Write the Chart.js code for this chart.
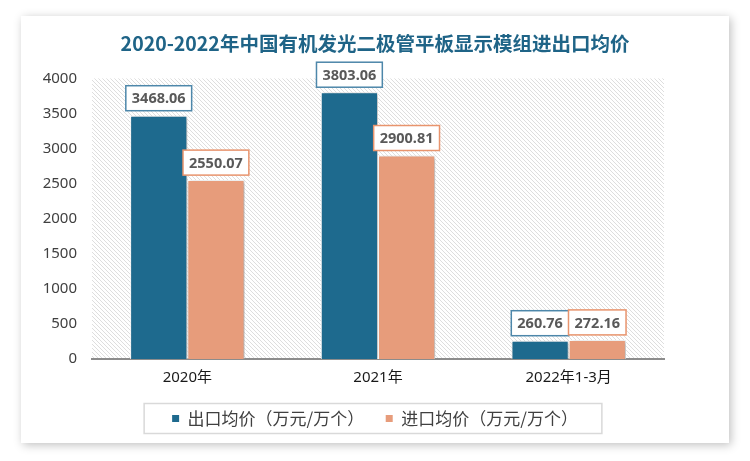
<!DOCTYPE html>
<html>
<head>
<meta charset="utf-8">
<script src="https://cdn.jsdelivr.net/npm/chart.js@4.4.0/dist/chart.umd.min.js"></script>
<title>OLED模组进出口均价</title>
<style>
  body { margin: 0; background: #fff; }
  #graph-area { width: 750px; height: 461px; }
</style>
</head>
<body>
<div id="graph-area"><canvas id="myChart" width="750" height="461"></canvas></div>

<script>
    // data
    var categories = ['2020年', '2021年', '2022年1-3月'];
    var exportPrice = [3468.06, 3803.06, 260.76];
    var importPrice = [2550.07, 2900.81, 272.16];
    var seriesNames = ['出口均价（万元/万个）', '进口均价（万元/万个）'];
    var yTicks = [0, 500, 1000, 1500, 2000, 2500, 3000, 3500, 4000];
    var chartTitle = '2020-2022年中国有机发光二极管平板显示模组进出口均价';

    var barColors = ['#1e6a8e', '#e79c7b'];
    var labelBorders = ['#4d87aa', '#e8946d'];

    // white card with soft shadow behind everything
    var cardPlugin = {
        id: 'card',
        beforeDraw: function (chart) {
            var ctx = chart.ctx;
            ctx.save();
            ctx.fillStyle = '#fff';
            ctx.fillRect(0, 0, chart.width, chart.height);
            ctx.shadowColor = 'rgba(0,0,0,0.25)';
            ctx.shadowBlur = 9;
            ctx.shadowOffsetX = 2;
            ctx.shadowOffsetY = 2;
            ctx.fillRect(21, 16, 708, 427);
            ctx.restore();
        }
    };

    function hatchPattern(ctx) {
        var c = document.createElement('canvas');
        c.width = 4; c.height = 4;
        var g = c.getContext('2d');
        g.fillStyle = '#fff';
        g.fillRect(0, 0, 4, 4);
        g.strokeStyle = '#dedede';
        g.lineWidth = 1;
        g.beginPath();
        g.moveTo(-1, -1); g.lineTo(5, 5);
        g.moveTo(-1, 3); g.lineTo(1, 5);
        g.moveTo(3, -1); g.lineTo(5, 1);
        g.stroke();
        return ctx.createPattern(c, 'repeat');
    }

    // hatched plot area, bar shadows and the boxed value labels
    var plotPlugin = {
        id: 'plot',
        beforeDatasetsDraw: function (chart) {
            var ctx = chart.ctx, a = chart.chartArea;
            ctx.save();
            ctx.fillStyle = hatchPattern(ctx);
            ctx.fillRect(a.left, a.top, a.right - a.left, a.bottom - a.top - 1);
            ctx.restore();
            ctx.save();
            ctx.shadowColor = 'rgba(0,0,0,0.3)';
            ctx.shadowBlur = 4;
            ctx.shadowOffsetX = 2;
            ctx.shadowOffsetY = 1;
        },
        afterDatasetsDraw: function (chart) {
            var ctx = chart.ctx;
            ctx.restore();
            ctx.save();
            ctx.font = 'bold 14.5px "Noto Sans"';
            ctx.textAlign = 'center';
            ctx.textBaseline = 'middle';
            chart.data.datasets.forEach(function (ds, di) {
                var meta = chart.getDatasetMeta(di);
                meta.data.forEach(function (bar, i) {
                    var txt = ds.data[i].toFixed(2);
                    var w = ctx.measureText(txt).width + 12;
                    var h = 25;
                    var x = bar.x - w / 2;
                    var y = bar.y - 5 - h;
                    ctx.fillStyle = '#fff';
                    ctx.fillRect(x, y, w, h);
                    ctx.strokeStyle = labelBorders[di];
                    ctx.lineWidth = 1.5;
                    ctx.strokeRect(x, y, w, h);
                    ctx.fillStyle = '#595959';
                    ctx.fillText(txt, bar.x, y + h / 2 + 1);
                });
            });
            ctx.restore();
        },
        afterDraw: function (chart) {
            // frame around the legend
            var ctx = chart.ctx;
            var hb = chart.legend.legendHitBoxes;
            if (!hb || !hb.length) return;
            var last = hb[hb.length - 1];
            var l = hb[0].left - 28;
            var r = last.left + last.width + 24;
            var cy = hb[0].top + hb[0].height / 2;
            ctx.save();
            ctx.strokeStyle = '#d9d9d9';
            ctx.lineWidth = 1.5;
            ctx.strokeRect(l, cy - 15, r - l, 30);
            ctx.restore();
        }
    };

    var ctx = document.getElementById('myChart').getContext('2d');
    var myChart = new Chart(ctx, {
        type: 'bar',
        data: {
            labels: categories,
            datasets: [
                {
                    label: seriesNames[0],
                    data: exportPrice,
                    backgroundColor: barColors[0],
                    borderColor: '#fff',
                    borderWidth: 1,
                    categoryPercentage: 0.6,
                    barPercentage: 1.0
                },
                {
                    label: seriesNames[1],
                    data: importPrice,
                    backgroundColor: barColors[1],
                    borderColor: '#fff',
                    borderWidth: 1,
                    categoryPercentage: 0.6,
                    barPercentage: 1.0
                }
            ]
        },
        options: {
            responsive: false,
            animation: false,
            layout: { padding: { left: 22, right: 22, top: 32, bottom: 24 } },
            scales: {
                x: {
                    grid: { display: false, drawTicks: false },
                    border: { display: true, color: '#8c8c8c', width: 2 },
                    ticks: {
                        padding: 10,
                        color: '#1a1a1a',
                        font: { size: 15, family: '"Noto Sans", "Noto Sans CJK SC"' }
                    },
                    afterFit: function (s) { s.height = 41; }
                },
                y: {
                    min: 0,
                    max: 4000,
                    grid: { display: false, drawTicks: false },
                    border: { display: false },
                    afterBuildTicks: function (s) {
                        s.ticks = yTicks.map(function (v) { return { value: v }; });
                    },
                    ticks: {
                        padding: 15,
                        color: '#404040',
                        font: { size: 15, family: '"Noto Sans"' },
                        callback: function (v) { return String(v); }
                    },
                    afterFit: function (s) { s.width = 70; }
                },
                yRight: {
                    position: 'right',
                    grid: { display: false, drawTicks: false },
                    border: { display: false },
                    ticks: { display: false },
                    afterFit: function (s) { s.width = 64; }
                }
            },
            plugins: {
                title: {
                    display: true,
                    text: chartTitle,
                    color: '#1f6487',
                    font: { size: 19.5, weight: 'bold', family: '"Noto Sans CJK SC"' },
                    padding: { top: 0, bottom: 23 }
                },
                legend: {
                    position: 'bottom',
                    labels: {
                        boxWidth: 7,
                        boxHeight: 7,
                        padding: 10,
                        color: '#404040',
                        font: { size: 17, family: '"Noto Sans CJK SC"' },
                        generateLabels: function (chart) {
                            var items = Chart.defaults.plugins.legend.labels.generateLabels(chart);
                            items.forEach(function (it, i) {
                                it.lineWidth = 0;
                                it.strokeStyle = barColors[i];
                                if (i === 0) it.text = it.text + '   ';
                            });
                            return items;
                        }
                    }
                },
                tooltip: { enabled: false }
            }
        },
        plugins: [cardPlugin, plotPlugin]
    });
</script>
</body>
</html>
